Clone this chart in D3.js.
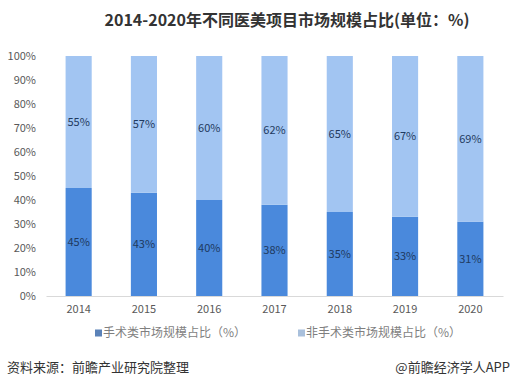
<!DOCTYPE html>
<html>
<head>
<meta charset="utf-8">
<script src="https://cdn.jsdelivr.net/npm/d3@7"></script>
<style>
  body { margin: 0; background: #fff; }
  svg { display: block; font-family: "Microsoft YaHei", "Noto Sans CJK SC", "Noto Sans", sans-serif; }
</style>
</head>
<body>
<div id="chart"></div>
<script>
const years = ['2014', '2015', '2016', '2017', '2018', '2019', '2020'];
const surgical = [45, 43, 40, 38, 35, 33, 31];
const nonSurgical = [55, 57, 60, 62, 65, 67, 69];
const yTicks = [0, 10, 20, 30, 40, 50, 60, 70, 80, 90, 100];
const seriesNames = ['手术类市场规模占比（%）', '非手术类市场规模占比（%）'];
const colors = ['#4a89dc', '#a2c5f2'];

const width = 511, height = 387;
const svg = d3.select('#chart').append('svg').attr('width', width).attr('height', height);

const x = d3.scaleBand().domain(years).range([46, 503]).paddingInner(0.6).paddingOuter(0.3);
const y = d3.scaleLinear().domain([0, 100]).range([296, 56]);

// title
svg.append('text')
  .attr('x', 287).attr('y', 26)
  .attr('text-anchor', 'middle')
  .attr('font-size', 16).attr('font-weight', 'bold').attr('fill', '#333')
  .text('2014-2020年不同医美项目市场规模占比(单位：%)');

// y axis labels
svg.append('g').selectAll('text').data(yTicks).join('text')
  .attr('x', 36).attr('y', d => y(d))
  .attr('dy', '0.35em').attr('text-anchor', 'end')
  .attr('font-size', 11).attr('fill', '#595959')
  .text(d => d + '%');

// stacked bars
const rows = years.map((yr, i) => ({ year: yr, a: surgical[i], b: nonSurgical[i] }));
const g = svg.append('g');
g.selectAll('rect.a').data(rows).join('rect')
  .attr('x', d => x(d.year)).attr('width', x.bandwidth())
  .attr('y', d => y(d.a)).attr('height', d => y(0) - y(d.a))
  .attr('fill', colors[0]);
g.selectAll('rect.b').data(rows).join('rect')
  .attr('x', d => x(d.year)).attr('width', x.bandwidth())
  .attr('y', d => y(d.a + d.b)).attr('height', d => y(d.a) - y(d.a + d.b))
  .attr('fill', colors[1]);

// value labels
g.selectAll('text.la').data(rows).join('text')
  .attr('x', d => x(d.year) + x.bandwidth() / 2)
  .attr('y', d => y(d.a / 2)).attr('dy', '0.35em')
  .attr('text-anchor', 'middle').attr('font-size', 11).attr('fill', '#1f3a60')
  .text(d => d.a + '%');
g.selectAll('text.lb').data(rows).join('text')
  .attr('x', d => x(d.year) + x.bandwidth() / 2)
  .attr('y', d => y(d.a + d.b / 2)).attr('dy', '0.35em')
  .attr('text-anchor', 'middle').attr('font-size', 11).attr('fill', '#1f3a60')
  .text(d => d.b + '%');

// x axis
const xAxis = svg.append('g').attr('transform', `translate(0,${y(0)})`)
  .call(d3.axisBottom(x).tickSize(0).tickPadding(9));
xAxis.select('.domain').attr('stroke', '#d9d9d9');
xAxis.selectAll('text').attr('font-size', 11).attr('fill', '#595959')
  .attr('font-family', '"Microsoft YaHei", "Noto Sans CJK SC", sans-serif');

// legend
const legendX = [95, 298];
const legend = svg.append('g').selectAll('g').data(seriesNames).join('g')
  .attr('transform', (d, i) => `translate(${legendX[i]},333)`);
legend.append('rect').attr('x', 0).attr('y', -3.5).attr('width', 7).attr('height', 7)
  .attr('fill', (d, i) => i === 0 ? '#5b82b8' : '#a9c0dc');
legend.append('text').attr('x', 8).attr('y', 0).attr('dy', '0.35em')
  .attr('font-size', 12).attr('fill', '#7f7f7f')
  .text(d => d);

// footer
svg.append('text').attr('x', 7).attr('y', 372)
  .attr('font-size', 13).attr('fill', '#333')
  .text('资料来源：前瞻产业研究院整理');
svg.append('text').attr('x', 510).attr('y', 372).attr('text-anchor', 'end')
  .attr('font-size', 13).attr('fill', '#333')
  .text('@前瞻经济学人APP');
</script>
</body>
</html>
